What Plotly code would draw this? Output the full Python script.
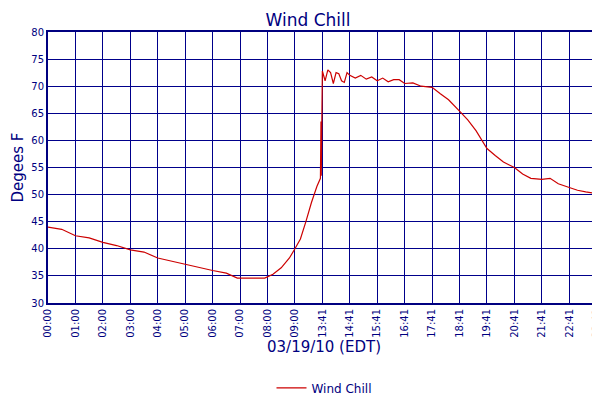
import plotly.graph_objects as go

# x is an hour index: the axis skips from 09:00 straight to 13:41
tick_pos = [0, 1, 2, 3, 4, 5, 6, 7, 8, 9, 10, 11, 12, 13, 14, 15, 16, 17, 18, 19, 20, 20.1]
tick_text = ['00:00', '01:00', '02:00', '03:00', '04:00', '05:00', '06:00', '07:00', '08:00', '09:00',
             '13:41', '14:41', '15:41', '16:41', '17:41', '18:41', '19:41', '20:41', '21:41', '22:41',
             '23:41', '23:44']

x_vals = [0, 0.5, 1, 1.5, 2, 2.5, 3, 3.5, 4, 4.5, 5, 5.5, 6, 6.5, 6.9, 7.9, 8.2, 8.5, 8.8, 9.0, 9.2,
          9.4, 9.6, 9.8, 9.93, 9.95, 9.96, 10.0, 10.1, 10.2, 10.3, 10.4, 10.5, 10.6, 10.7, 10.8, 10.9,
          11.0, 11.2, 11.4, 11.6, 11.8, 12.0, 12.2, 12.4, 12.6, 12.8, 13.0, 13.3, 13.6, 14.0, 14.3,
          14.6, 15.0, 15.3, 15.6, 16.0, 16.3, 16.6, 17.0, 17.3, 17.6, 18.0, 18.3, 18.6, 19.0, 19.3,
          19.6, 20.0, 20.1]
wind_chill = [44, 43.6, 42.4, 42, 41.2, 40.6, 39.8, 39.4, 38.3, 37.7, 37.2, 36.6, 36, 35.5, 34.6, 34.6,
              35.3, 36.5, 38.3, 40, 41.8, 45, 48.5, 51.5, 53, 63.5, 53.5, 72.8, 71, 73, 72.5, 70.5, 72.5,
              72.3, 71, 70.7, 72.5, 72, 71.5, 72, 71.3, 71.7, 71, 71.5, 70.8, 71.2, 71.2, 70.5, 70.6, 70,
              69.8, 68.6, 67.5, 65.4, 63.8, 61.8, 58.5, 57.2, 56, 55, 53.8, 53, 52.8, 53, 52, 51.3, 50.8,
              50.5, 50.2, 49.2]

fig = go.Figure(go.Scatter(x=x_vals, y=wind_chill, mode='lines', name='Wind Chill',
                           line=dict(color='#cc0000', width=1.2)))

fig.update_layout(
    title=dict(text='Wind Chill', x=0.5, y=0.985, font=dict(size=17, color='#000080')),
    width=600, height=400, margin=dict(l=40, r=6, t=24, b=82 - 26),
    paper_bgcolor='white', plot_bgcolor='white',
    font=dict(family='DejaVu Sans', color='#000080', size=10),
    showlegend=True,
    legend=dict(orientation='h', x=0.5, xanchor='center', y=-0.26, font=dict(color='#000080', size=12)),
)
fig.update_xaxes(range=[0, 20.12], tickvals=tick_pos, ticktext=tick_text, tickangle=-90,
                 showgrid=True, gridcolor='#00008b', gridwidth=1, showline=True, linecolor='#000080',
                 linewidth=2, mirror=True, ticks='', automargin=False,
                 title=dict(text='03/19/10 (EDT)', standoff=4, font=dict(size=15)))
fig.update_yaxes(range=[30, 80], dtick=5, showgrid=True, gridcolor='#00008b', gridwidth=1,
                 showline=True, linecolor='#000080', linewidth=2, mirror=True, ticks='',
                 title=dict(text='Degees F', standoff=4, font=dict(size=15)))

fig.write_html("out.html")
